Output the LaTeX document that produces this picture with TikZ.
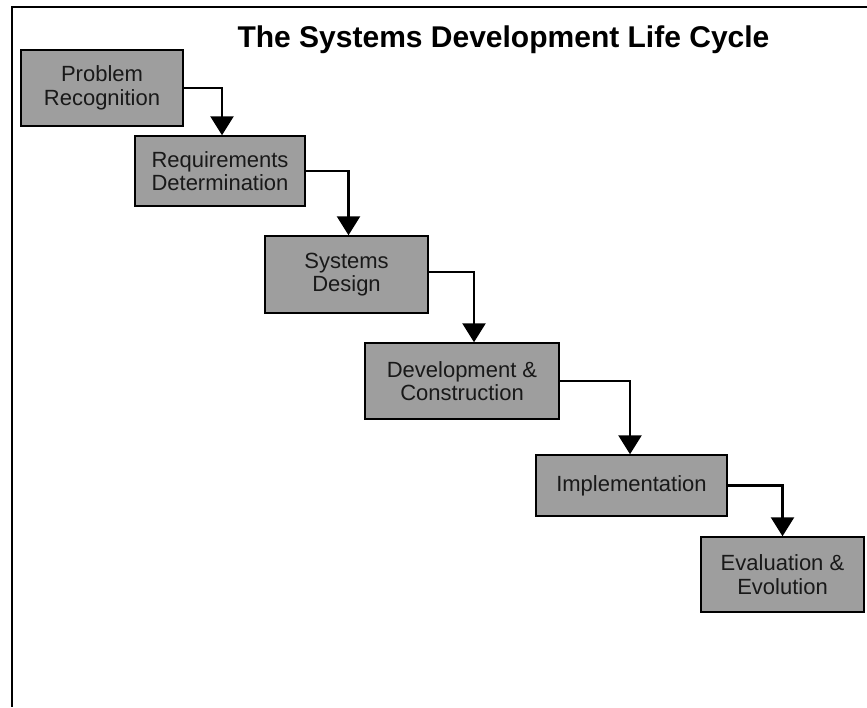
\documentclass[tikz,border=0pt]{standalone}
\usepackage{fontspec}
\setmainfont{Liberation Sans}
\usetikzlibrary{arrows.meta}
\begin{document}
\begin{tikzpicture}[x=1pt,y=-1pt,
  phase/.style={draw=black,line width=1.5pt,fill=black!38,inner sep=0pt,
    align=center,font=\fontsize{22}{23.5}\selectfont,text=black!90},
  flow/.style={line width=2.6pt,-{Triangle[width=23pt,length=19pt]}}]
\useasboundingbox (0,0) rectangle (867,707);
% frame: top and left rules
\coordinate (ftl) at (12,7);
\coordinate (ftr) at (867,7);
\coordinate (fbl) at (12,707);
\draw[line width=2pt] (ftr) -- (ftl) -- (fbl);
% title
\node[anchor=base,font=\fontsize{30}{33}\selectfont\bfseries] (title) at (503.5,47)
  {The Systems Development Life Cycle};
% phases
\node[phase,minimum width=162pt,minimum height=76pt] (p1) at (102,88) {Problem\\Recognition};
\node[phase,minimum width=170pt,minimum height=70pt] (p2) at (220,171) {Requirements\\Determination};
\node[phase,minimum width=163pt,minimum height=77pt] (p3) at (346.5,274.5) {Systems\\Design};
\node[phase,minimum width=194pt,minimum height=76pt] (p4) at (462,381) {Development \&\\Construction};
\node[phase,minimum width=191pt,minimum height=61pt] (p5) at (631.5,485.5) {Implementation};
\node[phase,minimum width=163pt,minimum height=75pt] (p6) at (782.5,574.5) {Evaluation \&\\Evolution};
% connectors
\draw[flow] (p1.east) -| ([xshift=2pt]p2.north);
\draw[flow] (p2.east) -| ([xshift=2pt]p3.north);
\draw[flow] ([yshift=2.5pt]p3.east) -| ([xshift=12pt]p4.north);
\draw[flow] (p4.east) -| ([xshift=-1.5pt]p5.north);
\draw[flow] (p5.east) -| (p6.north);
\end{tikzpicture}
\end{document}
